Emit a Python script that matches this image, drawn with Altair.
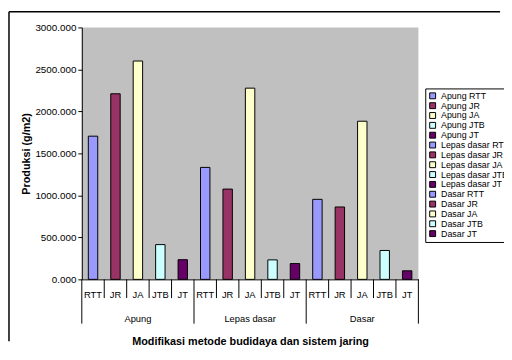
import altair as alt
import pandas as pd

groups = ["Apung", "Lepas dasar", "Dasar"]
nets = ["RTT", "JR", "JA", "JTB", "JT"]
apung = [1705, 2210, 2600, 414, 234]
lepas = [1333, 1075, 2277, 232, 188]
dasar = [953, 862, 1883, 344, 102]
net_colors = ["#9999FF", "#993366", "#FFFFCC", "#CCFFFF", "#660066"]
y_ticks = [0, 500, 1000, 1500, 2000, 2500, 3000]

rows = []
for g, vals in zip(groups, [apung, lepas, dasar]):
    for n, v in zip(nets, vals):
        rows.append({"key": f"{g} {n}", "group": g, "net": n, "value": v})
df = pd.DataFrame(rows)
keys = list(df["key"])
colors = net_colors * len(groups)

W, H = 342, 256
PL, PT, PR, PB = 75, 17, 87, 67

bars = alt.Chart(df).mark_bar(stroke="black", strokeWidth=1).encode(
    x=alt.X("key:N", sort=keys,
            scale=alt.Scale(paddingInner=0.58, paddingOuter=0.29),
            axis=alt.Axis(title="Modifikasi metode budidaya dan sistem jaring",
                          labelExpr="split(datum.label, ' ')[length(split(datum.label, ' ')) - 1]",
                          labelAngle=0, ticks=False, labelPadding=10,
                          labelFontSize=9.5, labelColor="black",
                          domainColor="black", domainWidth=1,
                          titleFontSize=11, titleFontWeight="bold", titlePadding=38,
                          titleColor="black")),
    y=alt.Y("value:Q", scale=alt.Scale(domain=[0, 3000], nice=False),
            axis=alt.Axis(title="Produksi (g/m2)", values=y_ticks, format=".3f",
                          grid=False, tickSize=4, tickColor="black",
                          domainColor="black", labelFontSize=10, labelColor="black",
                          labelPadding=2, titleFontSize=11, titleFontWeight="bold",
                          titleColor="black", titlePadding=3)),
    color=alt.Color("key:N", sort=keys,
                    scale=alt.Scale(domain=keys, range=colors),
                    legend=alt.Legend(title=None, orient="none", legendX=349, legendY=62,
                                      symbolType="square", symbolSize=36,
                                      symbolStrokeColor="black", symbolStrokeWidth=1,
                                      labelFontSize=9, labelColor="black", rowPadding=-4,
                                      padding=3, strokeColor="black", fillColor="white",
                                      labelLimit=200, symbolOffset=0)),
)

edges = pd.DataFrame({"pos": list(range(len(keys) + 1))})
edges["long"] = edges["pos"] % len(nets) == 0
xq = alt.X("pos:Q", scale=alt.Scale(domain=[0, len(keys)], nice=False, zero=False), axis=None)

short_rules = alt.Chart(edges).transform_filter("!datum.long").mark_rule(
    color="black", strokeWidth=1).encode(x=xq, y=alt.value(H), y2=alt.value(H + 19))
long_rules = alt.Chart(edges).transform_filter("datum.long").mark_rule(
    color="black", strokeWidth=1).encode(x=xq, y=alt.value(H), y2=alt.value(H + 45))

gdf = pd.DataFrame({"group": groups, "idx": list(range(len(groups)))})
glabels = alt.Chart(gdf).transform_calculate(
    pos=f"datum.idx * {len(nets)} + {len(nets) / 2}"
).mark_text(fontSize=9.5, color="black", baseline="middle").encode(
    x=xq, y=alt.value(H + 40), text="group:N")

one = pd.DataFrame({"a": [0]})
frame_top = alt.Chart(one).mark_rule(color="black", strokeWidth=1.5).encode(
    x=alt.value(-PL + 1), x2=alt.value(W + PR - 4), y=alt.value(-PT + 1))
frame_left = alt.Chart(one).mark_rule(color="black", strokeWidth=1.5).encode(
    x=alt.value(-PL + 1), y=alt.value(-PT + 1), y2=alt.value(H + PB - 4))

chart = alt.layer(frame_top, frame_left, bars, short_rules, long_rules, glabels).resolve_scale(
    x="independent").properties(
    width=W, height=H,
    autosize=alt.AutoSizeParams(type="none"),
    padding={"left": PL, "top": PT, "right": PR, "bottom": PB},
).configure(font="Liberation Sans", background="white").configure_view(
    fill="#C0C0C0", stroke=None)

chart.save("out.html", embed_options={"renderer": "svg", "actions": False})
